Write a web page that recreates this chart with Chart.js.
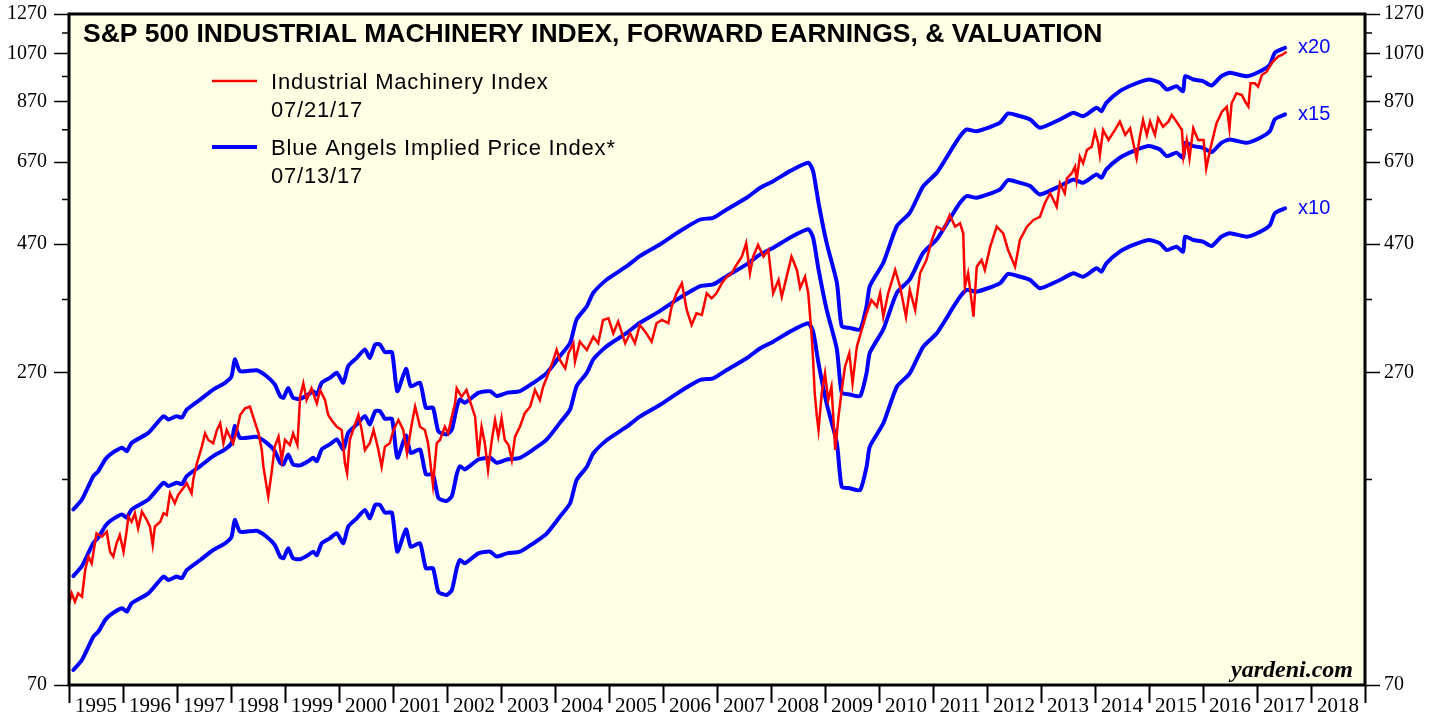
<!DOCTYPE html>
<html>
<head>
<meta charset="utf-8">
<title>S&amp;P 500 Industrial Machinery Index</title>
<script src="https://cdn.jsdelivr.net/npm/chart.js@4.4.0/dist/chart.umd.min.js"></script>
<style>
  html, body { margin: 0; padding: 0; background: #fff; }
</style>
</head>
<body>
<canvas id="machChart" width="1446" height="717"></canvas>
<script>
// tick labels
const years = ['1995', '1996', '1997', '1998', '1999', '2000', '2001', '2002', '2003', '2004', '2005', '2006',
  '2007', '2008', '2009', '2010', '2011', '2012', '2013', '2014', '2015', '2016', '2017', '2018'];
const yTickValues = [70, 170, 270, 370, 470, 570, 670, 770, 870, 970, 1070, 1170, 1270];
const yLabelValues = [70, 270, 470, 670, 870, 1070, 1270];

// Industrial Machinery Index (weekly)
const indexDates = [
  1995.00, 1995.05, 1995.11, 1995.17, 1995.24, 1995.30, 1995.36, 1995.42, 1995.48, 1995.51, 1995.61, 1995.70,
  1995.76, 1995.82, 1995.88, 1995.94, 1996.01, 1996.07, 1996.10, 1996.16, 1996.22, 1996.28, 1996.35, 1996.44,
  1996.50, 1996.55, 1996.59, 1996.69, 1996.75, 1996.81, 1996.87, 1996.96, 1997.02, 1997.09, 1997.18, 1997.27,
  1997.30, 1997.36, 1997.46, 1997.52, 1997.58, 1997.67, 1997.74, 1997.80, 1997.86, 1997.92, 1997.98, 1998.04,
  1998.11, 1998.17, 1998.26, 1998.35, 1998.41, 1998.51, 1998.57, 1998.60, 1998.66, 1998.69, 1998.75, 1998.81,
  1998.88, 1998.94, 1999.00, 1999.09, 1999.15, 1999.23, 1999.28, 1999.34, 1999.40, 1999.49, 1999.59, 1999.65,
  1999.74, 1999.80, 1999.86, 1999.96, 2000.05, 2000.11, 2000.15, 2000.20, 2000.26, 2000.36, 2000.42, 2000.48,
  2000.57, 2000.64, 2000.73, 2000.79, 2000.85, 2000.94, 2001.01, 2001.10, 2001.19, 2001.26, 2001.35, 2001.41,
  2001.50, 2001.59, 2001.65, 2001.74, 2001.81, 2001.87, 2001.96, 2002.02, 2002.09, 2002.15, 2002.18, 2002.27,
  2002.36, 2002.43, 2002.52, 2002.58, 2002.64, 2002.70, 2002.76, 2002.83, 2002.89, 2002.95, 2003.01, 2003.07,
  2003.14, 2003.20, 2003.26, 2003.35, 2003.44, 2003.54, 2003.63, 2003.72, 2003.78, 2003.88, 2003.97, 2004.03,
  2004.09, 2004.19, 2004.25, 2004.34, 2004.37, 2004.46, 2004.59, 2004.71, 2004.80, 2004.89, 2004.99, 2005.08,
  2005.17, 2005.30, 2005.39, 2005.48, 2005.57, 2005.67, 2005.79, 2005.88, 2005.98, 2006.10, 2006.16, 2006.25,
  2006.35, 2006.44, 2006.53, 2006.62, 2006.72, 2006.81, 2006.90, 2006.99, 2007.09, 2007.18, 2007.27, 2007.36,
  2007.46, 2007.54, 2007.61, 2007.67, 2007.76, 2007.86, 2007.95, 2008.04, 2008.14, 2008.20, 2008.29, 2008.38,
  2008.48, 2008.54, 2008.63, 2008.69, 2008.75, 2008.78, 2008.81, 2008.85, 2008.88, 2008.94, 2009.00, 2009.06,
  2009.12, 2009.19, 2009.25, 2009.31, 2009.37, 2009.45, 2009.51, 2009.59, 2009.68, 2009.77, 2009.86, 2009.96,
  2010.02, 2010.08, 2010.17, 2010.30, 2010.39, 2010.50, 2010.57, 2010.67, 2010.76, 2010.88, 2010.98, 2011.07,
  2011.19, 2011.31, 2011.41, 2011.50, 2011.56, 2011.59, 2011.65, 2011.75, 2011.81, 2011.90, 2011.96, 2012.06,
  2012.18, 2012.30, 2012.39, 2012.52, 2012.61, 2012.74, 2012.86, 2012.98, 2013.07, 2013.17, 2013.29, 2013.35,
  2013.44, 2013.48, 2013.57, 2013.63, 2013.66, 2013.72, 2013.78, 2013.85, 2013.94, 2014.00, 2014.06, 2014.09,
  2014.15, 2014.25, 2014.37, 2014.46, 2014.56, 2014.65, 2014.77, 2014.83, 2014.89, 2014.96, 2015.02, 2015.11,
  2015.17, 2015.26, 2015.36, 2015.42, 2015.51, 2015.61, 2015.64, 2015.70, 2015.75, 2015.82, 2015.91, 2016.01,
  2016.06, 2016.13, 2016.19, 2016.25, 2016.35, 2016.44, 2016.49, 2016.53, 2016.62, 2016.72, 2016.78, 2016.84,
  2016.88, 2016.96, 2017.02, 2017.09, 2017.18, 2017.27, 2017.33, 2017.39, 2017.46, 2017.55
];
const indexValues = [
  99.6, 104.0, 100.3, 104.0, 102.5, 115.0, 121.9, 118.4, 129.1, 134.8, 132.8, 135.7,
  124.5, 121.9, 129.1, 133.8, 124.5, 136.7, 144.8, 141.7, 147.0, 137.7, 148.0, 142.8,
  138.7, 128.2, 138.7, 141.7, 147.0, 145.9, 160.2, 153.5, 159.0, 162.5, 167.3, 160.2,
  169.7, 181.1, 196.0, 207.6, 201.7, 198.9, 210.6, 216.8, 198.9, 210.6, 204.6, 198.9,
  210.6, 224.7, 231.3, 232.9, 223.1, 207.6, 193.2, 179.7, 164.9, 157.9, 174.7, 196.0,
  204.6, 185.0, 201.7, 197.4, 207.6, 197.4, 243.2, 257.7, 239.7, 252.2, 236.3, 250.3,
  239.7, 224.7, 219.9, 213.6, 210.6, 182.4, 174.7, 201.7, 210.6, 224.7, 210.6, 193.2,
  198.9, 210.6, 193.2, 179.7, 196.0, 198.9, 210.6, 219.9, 210.6, 190.5, 216.8, 232.9,
  213.6, 210.6, 198.9, 166.1, 198.9, 201.7, 213.6, 207.6, 223.1, 236.3, 252.2, 243.2,
  250.3, 238.0, 223.1, 187.7, 213.6, 198.9, 177.2, 201.7, 219.9, 204.6, 221.5, 201.7,
  197.4, 185.0, 204.6, 213.6, 226.4, 232.9, 250.3, 239.7, 253.9, 269.0, 285.0, 297.6,
  285.0, 274.9, 293.4, 306.3, 282.9, 308.4, 297.6, 315.2, 306.3, 338.7, 341.2, 319.8,
  336.3, 306.3, 319.8, 306.3, 331.5, 322.1, 308.4, 334.0, 338.7, 334.0, 358.8, 380.1,
  396.9, 353.7, 331.5, 348.7, 346.1, 380.1, 372.0, 380.1, 396.9, 408.4, 414.4, 429.6,
  445.3, 471.8, 414.4, 445.3, 468.3, 445.3, 458.3, 380.1, 402.6, 374.6, 408.4, 445.3,
  420.4, 388.9, 408.4, 380.1, 319.8, 285.0, 246.8, 223.1, 210.6, 246.8, 269.0, 239.7,
  253.9, 193.2, 223.1, 250.3, 276.8, 293.4, 257.7, 301.9, 324.4, 348.7, 369.3, 358.8,
  380.1, 343.6, 380.1, 420.4, 391.1, 343.6, 385.6, 353.7, 414.4, 439.0, 478.5, 506.8,
  499.6, 533.1, 506.8, 514.3, 492.5, 391.1, 414.4, 343.6, 426.4, 439.0, 420.4, 464.9,
  506.8, 492.5, 458.3, 426.4, 478.5, 506.8, 521.7, 528.6, 560.8, 585.5, 552.6, 611.4,
  585.5, 624.7, 638.4, 656.8, 620.1, 685.8, 666.5, 706.0, 716.1, 764.0, 726.6, 690.8,
  769.6, 737.1, 769.6, 797.8, 753.2, 775.3, 681.1, 747.7, 803.7, 753.2, 797.8, 753.2,
  809.6, 780.7, 797.8, 821.2, 797.8, 769.6, 685.8, 737.1, 681.1, 775.3, 737.1, 737.1,
  652.3, 706.0, 747.7, 792.3, 833.0, 851.2, 775.3, 863.7, 901.9, 895.3, 869.8, 851.2,
  941.6, 941.6, 928.0, 976.1, 990.0, 1026.6, 1041.4, 1056.3, 1064.1, 1079.3
];

// forward earnings per share (Blue Angels = forward earnings x P/E multiple)
const earnDates = [
  1995.08, 1995.24, 1995.45, 1995.54, 1995.67, 1995.76, 1995.98, 1996.07, 1996.16, 1996.47, 1996.75, 1996.84,
  1996.99, 1997.09, 1997.18, 1997.43, 1997.67, 1997.89, 1998.01, 1998.07, 1998.17, 1998.48, 1998.66, 1998.81,
  1998.91, 1998.97, 1999.06, 1999.15, 1999.28, 1999.43, 1999.52, 1999.59, 1999.68, 1999.83, 1999.96, 2000.08,
  2000.17, 2000.33, 2000.48, 2000.57, 2000.67, 2000.76, 2000.85, 2000.98, 2001.08, 2001.24, 2001.33, 2001.50,
  2001.61, 2001.74, 2001.84, 2001.99, 2002.09, 2002.18, 2002.24, 2002.33, 2002.58, 2002.80, 2002.92, 2003.11,
  2003.35, 2003.60, 2003.85, 2004.09, 2004.28, 2004.40, 2004.59, 2004.71, 2004.96, 2005.33, 2005.57, 2005.94,
  2006.31, 2006.69, 2006.93, 2007.18, 2007.55, 2007.80, 2008.04, 2008.35, 2008.69, 2008.78, 2008.88, 2009.03,
  2009.22, 2009.31, 2009.46, 2009.65, 2009.77, 2009.83, 2010.08, 2010.33, 2010.57, 2010.82, 2011.07, 2011.38,
  2011.50, 2011.62, 2011.81, 2012.24, 2012.39, 2012.61, 2012.80, 2012.98, 2013.35, 2013.60, 2013.78, 2014.03,
  2014.12, 2014.21, 2014.46, 2014.71, 2014.99, 2015.20, 2015.33, 2015.51, 2015.63, 2015.67, 2015.82, 2016.00,
  2016.16, 2016.34, 2016.50, 2016.81, 2017.06, 2017.24, 2017.33, 2017.52
];
const fwdEarnings = [
  7.47, 7.80, 8.62, 8.81, 9.27, 9.47, 9.75, 9.61, 9.96, 10.40, 11.18, 11.02,
  11.18, 11.11, 11.50, 12.01, 12.54, 12.91, 13.28, 14.28, 13.57, 13.63, 13.28, 12.82,
  12.19, 12.10, 12.63, 12.10, 12.05, 12.27, 12.45, 12.27, 12.91, 13.19, 13.48, 12.91,
  13.87, 14.38, 14.91, 14.38, 15.23, 15.23, 14.74, 14.74, 12.45, 13.71, 12.72, 12.91,
  11.59, 11.59, 10.47, 10.33, 10.55, 11.59, 12.01, 11.84, 12.36, 12.45, 12.19, 12.36,
  12.45, 12.91, 13.48, 14.48, 15.35, 16.97, 17.97, 19.05, 20.17, 21.36, 22.31, 23.46,
  24.85, 26.14, 26.33, 27.29, 28.71, 29.98, 30.84, 32.21, 33.40, 32.21, 28.09, 23.63,
  19.89, 16.49, 16.37, 16.25, 17.97, 19.60, 21.68, 25.39, 26.90, 30.19, 31.98, 35.88,
  37.46, 38.56, 38.28, 39.69, 41.32, 40.84, 40.26, 38.84, 40.26, 41.44, 40.84, 42.35,
  41.73, 43.27, 45.50, 46.83, 47.85, 47.18, 45.83, 46.49, 45.50, 48.54, 47.85, 47.50,
  46.63, 48.54, 49.25, 48.54, 49.60, 51.06, 53.71, 54.88
];
const multiples = [20, 15, 10];

const SERIF = '"Liberation Serif", "Times New Roman", serif';
const SANS = '"Liberation Sans", Arial, Helvetica, sans-serif';
const RED = '#ff0000';
const BLUE = '#0000ff';
const PLOT_BG = '#ffffe6';

const pts = (xs, ys, k) => xs.map((x, i) => ({ x: x, y: ys[i] * (k || 1) }));

const datasets = [{
  label: 'Industrial Machinery Index',
  data: pts(indexDates, indexValues),
  borderColor: RED,
  borderWidth: 2.5,
  pointRadius: 0,
  tension: 0
}].concat(multiples.map(m => ({
  label: 'x' + m,
  data: pts(earnDates, fwdEarnings, m),
  borderColor: BLUE,
  borderWidth: 4,
  borderJoinStyle: 'round',
  borderCapStyle: 'round',
  pointRadius: 0,
  tension: 0.2
})));

const isMajorY = v => yLabelValues.includes(v);

function yScale(position, width) {
  return {
    type: 'logarithmic',
    position: position,
    min: 70,
    max: 1270,
    afterBuildTicks: s => { s.ticks = yTickValues.map(v => ({ value: v })); },
    afterFit: s => {
      s.width = width;
      s.paddingTop = 0;
      s.paddingBottom = 0;
    },
    border: { display: false },
    grid: {
      drawOnChartArea: false,
      tickLength: 15,
      tickWidth: 1.5,
      tickColor: c => (c.tick && isMajorY(c.tick.value)) ? '#000' : 'rgba(0,0,0,0)'
    },
    ticks: {
      autoSkip: false,
      padding: position === 'left' ? 7 : 4,
      color: '#000',
      font: { family: SERIF, size: 20 },
      callback: v => isMajorY(v) ? String(v) : ''
    }
  };
}

// frame, minor ticks and all the text that sits inside the plot
const decorations = {
  id: 'decorations',
  beforeDraw(chart) {
    const { ctx, chartArea: a } = chart;
    ctx.save();
    ctx.fillStyle = '#fff';
    ctx.fillRect(0, 0, chart.width, chart.height);
    ctx.fillStyle = PLOT_BG;
    ctx.fillRect(a.left, a.top, a.right - a.left, a.bottom - a.top);
    ctx.restore();
  },
  afterDraw(chart) {
    const { ctx, chartArea: a, scales } = chart;
    ctx.save();

    // minor ticks on both value axes
    ctx.strokeStyle = '#000';
    ctx.lineWidth = 1.5;
    ctx.beginPath();
    yTickValues.filter(v => !isMajorY(v)).forEach(v => {
      const py = scales.y.getPixelForValue(v);
      ctx.moveTo(a.left - 7, py); ctx.lineTo(a.left, py);
      ctx.moveTo(a.right, py); ctx.lineTo(a.right + 7, py);
    });
    ctx.stroke();

    // plot frame
    ctx.lineWidth = 3;
    ctx.strokeRect(a.left, a.top, a.right - a.left, a.bottom - a.top);

    // title
    ctx.fillStyle = '#000';
    ctx.textBaseline = 'alphabetic';
    ctx.textAlign = 'left';
    ctx.font = 'bold 26.5px ' + SANS;
    ctx.fillText('S&P 500 INDUSTRIAL MACHINERY INDEX, FORWARD EARNINGS, & VALUATION', a.left + 14, a.top + 28);

    // legend
    ctx.font = '22px ' + SANS;
    ctx.letterSpacing = '0.8px';
    const legend = [
      { color: RED, width: 2.5, lines: ['Industrial Machinery Index', '07/21/17'], y: 81 },
      { color: BLUE, width: 4, lines: ['Blue Angels Implied Price Index*', '07/13/17'], y: 147 }
    ];
    legend.forEach(item => {
      ctx.strokeStyle = item.color;
      ctx.lineWidth = item.width;
      ctx.beginPath();
      ctx.moveTo(212, item.y);
      ctx.lineTo(257, item.y);
      ctx.stroke();
      ctx.fillStyle = '#000';
      ctx.fillText(item.lines[0], 271, item.y + 8);
      ctx.fillText(item.lines[1], 271, item.y + 36);
    });
    ctx.letterSpacing = '0px';

    // multiple labels at the right end of the blue lines
    ctx.fillStyle = BLUE;
    ctx.font = '20px ' + SANS;
    ctx.textBaseline = 'middle';
    const lastX = earnDates[earnDates.length - 1];
    const lastE = fwdEarnings[fwdEarnings.length - 1];
    multiples.forEach(m => {
      const px = scales.x.getPixelForValue(lastX) + 13;
      const py = scales.y.getPixelForValue(lastE * m);
      ctx.fillText('x' + m, px, py);
    });

    // source
    ctx.fillStyle = '#000';
    ctx.textAlign = 'right';
    ctx.textBaseline = 'alphabetic';
    ctx.font = 'italic bold 24px ' + SERIF;
    ctx.fillText('yardeni.com', a.right - 12, a.bottom - 8);

    ctx.restore();
  }
};

const machChart = new Chart(document.getElementById('machChart').getContext('2d'), {
  type: 'line',
  data: { datasets: datasets },
  options: {
    responsive: false,
    animation: false,
    layout: { padding: { top: 14, left: 0, right: 0, bottom: 0 } },
    plugins: {
      legend: { display: false },
      title: { display: false },
      tooltip: { enabled: false }
    },
    scales: {
      x: {
        type: 'linear',
        position: 'bottom',
        min: 1995,
        max: 2019,
        afterBuildTicks: s => {
          const t = [];
          years.forEach(y => { t.push({ value: +y }); t.push({ value: +y + 0.5 }); });
          t.push({ value: 2019 });
          s.ticks = t;
        },
        afterFit: s => {
          s.height = 32;
          s.paddingLeft = 0;
          s.paddingRight = 0;
        },
        border: { display: false },
        grid: {
          drawOnChartArea: false,
          tickLength: 18,
          tickWidth: 2,
          tickColor: c => (c.tick && Number.isInteger(c.tick.value)) ? '#000' : 'rgba(0,0,0,0)'
        },
        ticks: {
          autoSkip: false,
          maxRotation: 0,
          minRotation: 0,
          padding: -9,
          color: '#000',
          font: { family: SERIF, size: 21 },
          callback: v => Number.isInteger(v) ? '' : String(Math.floor(v))
        }
      },
      y: yScale('left', 69),
      y2: yScale('right', 81)
    }
  },
  plugins: [decorations]
});
</script>
</body>
</html>
